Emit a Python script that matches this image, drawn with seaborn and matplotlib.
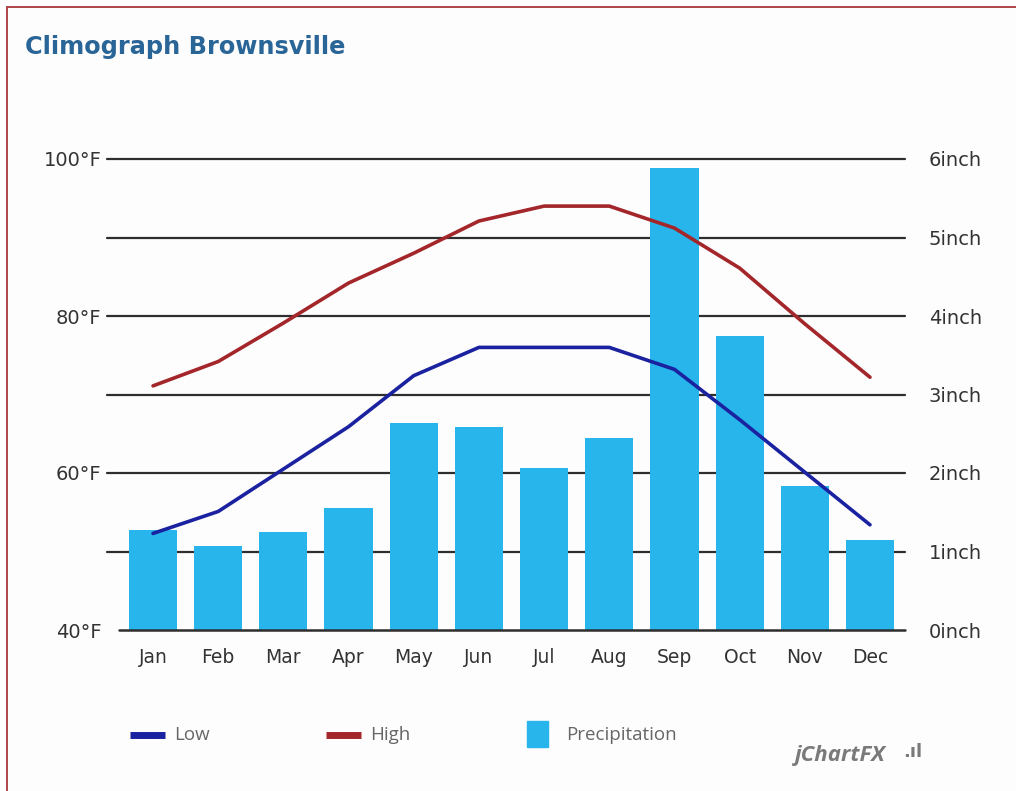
import matplotlib
matplotlib.use("Agg")
import matplotlib.pyplot as plt
from matplotlib.lines import Line2D
from matplotlib.patches import Rectangle
import numpy as np
import pandas as pd
import seaborn as sns

months = ["Jan", "Feb", "Mar", "Apr", "May", "Jun",
          "Jul", "Aug", "Sep", "Oct", "Nov", "Dec"]
low_f = [52.3, 55.1, 60.5, 65.9, 72.4, 76.0, 76.0, 76.0, 73.2, 66.8, 60.1, 53.4]
high_f = [71.1, 74.2, 79.1, 84.2, 88.0, 92.1, 94.0, 94.0, 91.2, 86.1, 79.0, 72.2]
precip_in = [1.27, 1.07, 1.25, 1.56, 2.64, 2.58, 2.07, 2.44, 5.89, 3.75, 1.83, 1.15]

temp_ticks = [40, 50, 60, 70, 80, 90, 100]
temp_labels = ["40°F", "", "60°F", "", "80°F", "", "100°F"]
precip_ticks = [0, 1, 2, 3, 4, 5, 6]
precip_labels = [f"{v}inch" for v in precip_ticks]

df = pd.DataFrame({"month": months, "low": low_f, "high": high_f, "precip": precip_in})

BAR = "#27b5ec"
LOW = "#1a22a0"
HIGH = "#a3262b"
GRID = "#2e2e2e"
TEXT = "#333333"

sns.set_theme(style="white")
plt.rcParams["font.family"] = ["DejaVu Sans"]

W, H = 1016, 791
fig = plt.figure(figsize=(W / 100, H / 100), dpi=100)
fig.patch.set_facecolor("white")

# outer frame of the widget
fig.add_artist(Rectangle((6.5 / W, -0.01), 1.1, 1 - 6.5 / H + 0.01,
                         transform=fig.transFigure, fill=True,
                         facecolor="#fefdfd", edgecolor="#a8383b", lw=1.3, zorder=0))

x0, x1, ytop, ybot = 107, 905, 159, 630
ax2 = fig.add_axes([x0 / W, 1 - ybot / H, (x1 - x0) / W, (ybot - ytop) / H])
ax2.set_facecolor("none")

# precipitation bars with gridlines behind them
for t in precip_ticks[1:]:
    ax2.axhline(t, color=GRID, lw=1.6, zorder=1, clip_on=False)
sns.barplot(data=df, x="month", y="precip", ax=ax2, color=BAR, width=0.74,
            saturation=1, edgecolor="none", zorder=2)
ax2.axhline(0, xmin=12 / (x1 - x0), color=GRID, lw=1.8, zorder=3, clip_on=False)
ax2.set_ylim(0, 6)
ax2.set_xlim(-0.706, 11.537)
ax2.yaxis.tick_right()
ax2.set_yticks(precip_ticks)
ax2.set_yticklabels(precip_labels)
ax2.set_xticks(np.arange(len(months)))
ax2.set_xticklabels(months)

# temperature lines on an overlaid axis sharing x
ax = ax2.twinx()
ax.yaxis.tick_left()
xpos = np.arange(len(months))
sns.lineplot(x=xpos, y=df["low"], ax=ax, color=LOW, lw=2.6, legend=False)
sns.lineplot(x=xpos, y=df["high"], ax=ax, color=HIGH, lw=2.6, legend=False)
ax.set_xlim(-0.706, 11.537)
ax.set_ylim(40, 100)
ax.set_yticks(temp_ticks)
ax.set_yticklabels(temp_labels)

for a in (ax, ax2):
    a.set_xlabel("")
    a.set_ylabel("")
    for s in a.spines.values():
        s.set_visible(False)
    a.grid(False)
ax.tick_params(axis="y", length=0, pad=4, labelsize=14, labelcolor=TEXT,
               left=True, labelleft=True, right=False, labelright=False)
ax2.tick_params(axis="x", length=0, pad=13, labelsize=13.5, labelcolor=TEXT)
ax2.tick_params(axis="y", length=0, pad=17, labelsize=14, labelcolor=TEXT,
                right=True, labelright=True, left=False, labelleft=False)

fig.text(25 / W, 1 - 47 / H, "Climograph Brownsville", fontsize=17.3,
         fontweight="bold", color="#2a6597", va="center", ha="left")

# legend row
ly = 1 - 735 / H
fig.add_artist(Line2D([130 / W, 165 / W], [ly, ly], color=LOW, lw=5,
                      solid_capstyle="butt", transform=fig.transFigure))
fig.text(174 / W, ly, "Low", fontsize=13.5, color="#666666", va="center",
         family="Open Sans")
fig.add_artist(Line2D([326 / W, 361 / W], [ly, ly], color=HIGH, lw=5,
                      solid_capstyle="butt", transform=fig.transFigure))
fig.text(370 / W, ly, "High", fontsize=13.5, color="#666666", va="center",
         family="Open Sans")
fig.add_artist(Rectangle((527 / W, 1 - 747 / H), 21 / W, 26 / H, color=BAR,
                         transform=fig.transFigure))
fig.text(566 / W, ly, "Precipitation", fontsize=13.5, color="#666666",
         va="center", family="Open Sans")

fig.text(795 / W, 1 - 755 / H, "jChartFX", fontsize=16, color="#7a7a7a",
         fontstyle="italic", fontweight="bold", va="center", family="Open Sans")
fig.text(903 / W, 1 - 752 / H, ".ıl", fontsize=13, color="#7a7a7a",
         fontweight="bold", va="center")

fig.savefig("out.png", dpi=100, facecolor="white")
